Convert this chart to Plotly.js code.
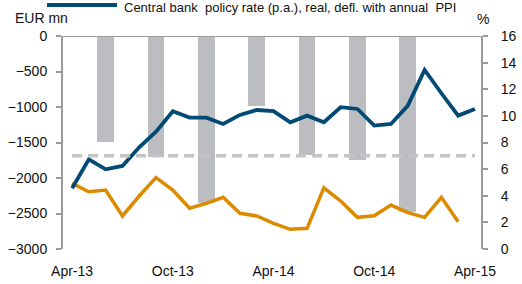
<!DOCTYPE html>
<html>
<head>
<meta charset="utf-8">
<script src="https://cdn.plot.ly/plotly-3.0.1.min.js"></script>
<style>
  html, body { margin: 0; padding: 0; background: #fff; }
  #chart { width: 522px; height: 284px; }
</style>
</head>
<body>
<div id="chart"></div>
<script>
// ---- Data ----
const months = ["Apr-13","May-13","Jun-13","Jul-13","Aug-13","Sep-13","Oct-13","Nov-13","Dec-13",
                "Jan-14","Feb-14","Mar-14","Apr-14","May-14","Jun-14","Jul-14","Aug-14","Sep-14",
                "Oct-14","Nov-14","Dec-14","Jan-15","Feb-15","Mar-15","Apr-15"];

// Central bank policy rate (p.a.), real, deflated with annual PPI, % (right axis)
const policyRateReal = [4.56, 6.74, 5.99, 6.24, 7.64, 8.81, 10.35, 9.87, 9.87,
                        9.39, 10.07, 10.44, 10.35, 9.52, 10.02, 9.52, 10.65, 10.52,
                        9.27, 9.39, 10.77, 13.45, 11.7, 10.02, 10.52];

// Second rate series, % (right axis) - its legend entry is outside the picture
const secondRate = [4.93, 4.30, 4.43, 2.48, 3.98, 5.36, 4.43, 3.06, 3.43,
                    3.88, 2.68, 2.48, 1.93, 1.48, 1.55, 4.60, 3.60, 2.38,
                    2.50, 3.30, 2.73, 2.38, 3.88, 2.05, null];

// Quarterly values, EUR mn (left axis)
const quarters = ["Jun-13","Sep-13","Dec-13","Mar-14","Jun-14","Sep-14","Dec-14"];
const quarterlyEurMn = [-1490, -1710, -2350, -980, -1680, -1740, -2480];

// Reference level, % (right axis)
const refLevel = 7;

const legendText = "Central bank  policy rate (p.a.), real, defl. with annual  PPI";

// ---- Styles ----
const axisGray = "#9a9a9a";
const fontFam = "Liberation Sans, Arial, sans-serif";

const traces = [
  {
    type: "bar", x: quarters, y: quarterlyEurMn, yaxis: "y", xaxis: "x",
    name: "Quarterly, EUR mn", marker: { color: "#bcbdc1" }, width: 1.0,
    hoverinfo: "x+y", showlegend: false
  },
  {
    type: "scatter", mode: "lines", x: months, y: secondRate, yaxis: "y2",
    name: "Second rate, %", line: { color: "#dc8a00", width: 3.5 },
    showlegend: false
  },
  {
    type: "scatter", mode: "lines", x: months, y: policyRateReal, yaxis: "y2",
    name: legendText, line: { color: "#004a74", width: 3.8 },
    showlegend: false
  }
];

const legendY = 1 + (36 - 8) / 213;
const sampleY = 1 + (36 - 5) / 213;

const layout = {
  width: 522, height: 284,
  margin: { l: 63, r: 41, t: 36, b: 35, autoexpand: false },
  paper_bgcolor: "#fff", plot_bgcolor: "#fff",
  font: { family: fontFam, size: 14, color: "#111" },
  showlegend: false,
  bargap: 0,
  xaxis: {
    type: "category", categoryorder: "array", categoryarray: months,
    range: [-0.54, 24.36],
    tickvals: ["Apr-13","Oct-13","Apr-14","Oct-14","Apr-15"],
    ticks: "", showline: false, showgrid: false, zeroline: false,
    tickfont: { size: 14, family: fontFam }, ticklabelstandoff: 12
  },
  yaxis: {
    range: [-3000, 0], dtick: 500, tick0: 0,
    ticks: "outside", ticklen: 5, tickwidth: 2, tickcolor: axisGray,
    showline: true, linecolor: axisGray, linewidth: 2,
    showgrid: false, zeroline: false,
    tickfont: { size: 14, family: fontFam }, ticklabelstandoff: 6
  },
  yaxis2: {
    overlaying: "y", side: "right",
    range: [0, 16], dtick: 2, tick0: 0,
    ticks: "outside", ticklen: 5, tickwidth: 2, tickcolor: axisGray,
    showline: true, linecolor: axisGray, linewidth: 2,
    showgrid: false, zeroline: false,
    tickfont: { size: 14, family: fontFam }, ticklabelstandoff: 10
  },
  shapes: [
    { type: "line", xref: "paper", yref: "y", x0: 0, x1: 1, y0: 0, y1: 0,
      line: { color: axisGray, width: 2 } },
    { type: "line", xref: "x", yref: "y2", x0: months[0], x1: months[months.length - 1],
      y0: refLevel, y1: refLevel, layer: "above",
      line: { color: "#c4c4c4", width: 3.5, dash: "10px,6px" } },
    { type: "line", xref: "paper", yref: "paper",
      x0: (47 - 63) / 418, x1: (117 - 63) / 418, y0: sampleY, y1: sampleY,
      line: { color: "#004a74", width: 4 } }
  ],
  annotations: [
    { text: "EUR mn", xref: "paper", yref: "paper", x: (13 - 63) / 418, y: 1 + (36 - 18) / 213,
      xanchor: "left", yanchor: "middle", showarrow: false, font: { size: 14 } },
    { text: "%", xref: "paper", yref: "paper", x: (482.5 - 63) / 418, y: 1 + (36 - 18.5) / 213,
      xanchor: "center", yanchor: "middle", showarrow: false, font: { size: 14 } },
    { text: legendText, xref: "paper", yref: "paper", x: (122 - 63) / 418, y: legendY,
      xanchor: "left", yanchor: "middle", showarrow: false, font: { size: 13 } }
  ]
};

Plotly.newPlot("chart", traces, layout, { displayModeBar: false, staticPlot: true });
</script>
</body>
</html>
